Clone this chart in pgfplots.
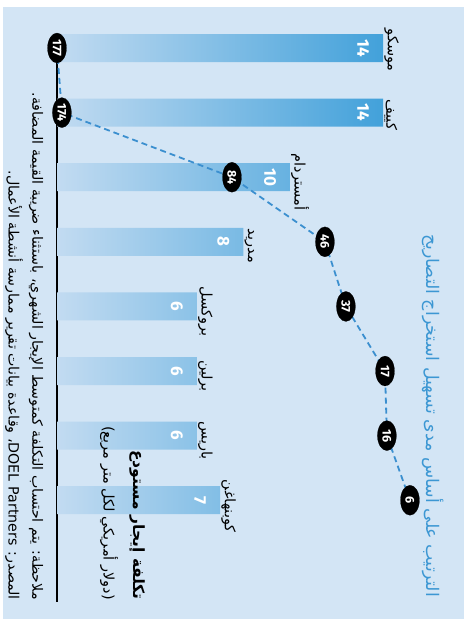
\documentclass[border=0pt]{standalone}
\usepackage{pgfplots}
\pgfplotsset{compat=1.18}
\usepackage{pgfplotstable}
\usepackage{fontspec}
\setmainfont{Fira Sans}
\newfontfamily\arabicfont[Script=Arabic]{DejaVu Sans}
\TeXXeTstate=1
\definecolor{bg}{HTML}{D3E5F5}
\definecolor{barlight}{HTML}{C2DBF1}
\definecolor{bardark}{HTML}{42A1DA}
\definecolor{rankblue}{HTML}{3B8FCF}
\definecolor{titleblue}{HTML}{3C97D3}

\pgfplotstableread{
idx value
0 14
1 14
2 10
3 8
4 6
5 6
6 6
7 7
}\costdata

\pgfplotstableread{
idx pos rank
0 0 177
1 0.21 174
2 7.51 84
3 11.5 46
4 12.4 37
5 14.08 17
6 14.16 16
7 15.15 6
}\rankdata

\begin{document}
\begin{tikzpicture}
\fill[white] (0pt,0pt) rectangle (464pt,-619pt);
\fill[bg] (3pt,-7pt) rectangle (464pt,-619pt);
\begin{axis}[
  at={(57pt,-15.7pt)}, anchor=north west,
  scale only axis, width=407pt, height=587.9pt,
  xmin=0, xmax=17.47, ymin=-0.5, ymax=8.6, y dir=reverse,
  hide axis, clip=false,
  /pgf/number format/assume math mode=true,
]
\draw[black, line width=2pt] (axis cs:0,0) -- (axis cs:0,8.58);
\addplot[xbar, bar width=28pt, draw=none, left color=barlight, right color=bardark,
  nodes near coords,
  every node near coord/.append style={anchor=center, xshift=-20pt, rotate=-90, text=white, font=\fontsize{17}{17}\selectfont\bfseries}]
  table[x=value, y=idx] {\costdata};
\addplot[rankblue, line width=1.8pt, dash pattern=on 6pt off 4pt,
  mark=*, mark size=15pt, mark options={solid, fill=black, draw=black, line width=0.2pt, xscale=0.63},
  nodes near coords, point meta=explicit,
  every node near coord/.append style={anchor=center, rotate=-90, text=white, font=\fontsize{12.5}{12.5}\selectfont\bfseries}]
  table[x=pos, y=idx, meta=rank] {\rankdata};
\begin{scope}[every node/.style={rotate=-90, anchor=south, inner sep=1pt, font=\arabicfont\fontsize{14.5}{14.5}\selectfont}]
\node[xshift=2pt] at (axis cs:14,0) {\beginR موسكو\endR};
\node[xshift=2pt] at (axis cs:14,1) {\beginR كييف\endR};
\node[xshift=5pt] at (axis cs:10,2) {\beginR أمستردام\endR};
\node[xshift=4pt] at (axis cs:8,3) {\beginR مدريد\endR};
\node[xshift=5pt] at (axis cs:6,4) {\beginR بروكسل\endR};
\node[xshift=5pt] at (axis cs:6,5) {\beginR برلين\endR};
\node[xshift=5pt] at (axis cs:6,6) {\beginR باريس\endR};
\node[xshift=6pt] at (axis cs:7,7) {\beginR كوبنهاغن\endR};
\end{scope}
\end{axis}
\begin{scope}[every node/.style={rotate=-90, anchor=east, inner sep=0pt}]
\node[font=\arabicfont\fontsize{17.4}{17.4}\selectfont, text=titleblue] at (433pt,-597pt) {\beginR الترتيب على أساس مدى تسهيل استخراج التصاريح\endR};
\node[font=\arabicfont\fontsize{15.5}{15.5}\selectfont\bfseries] at (137pt,-600pt) {\beginR تكلفة إيجار مستودع\endR};
\node[font=\arabicfont\fontsize{14.5}{14.5}\selectfont] at (109pt,-600pt) {\beginR (دولار أمريكي لكل متر مربع)\endR};
\node[font=\arabicfont\fontsize{14.2}{14.2}\selectfont] at (36pt,-600pt) {\beginR ملاحظة: يتم احتساب التكلفة كمتوسط الإيجار الشهري، باستثناء ضريبة القيمة المضافة.\endR};
\node[font=\arabicfont\fontsize{14.2}{14.2}\selectfont] at (14pt,-600pt) {\beginR المصدر: \beginL DOEL Partners\endL{}، وقاعدة بيانات تقرير ممارسة أنشطة الأعمال.\endR};
\end{scope}
\end{tikzpicture}
\end{document}
